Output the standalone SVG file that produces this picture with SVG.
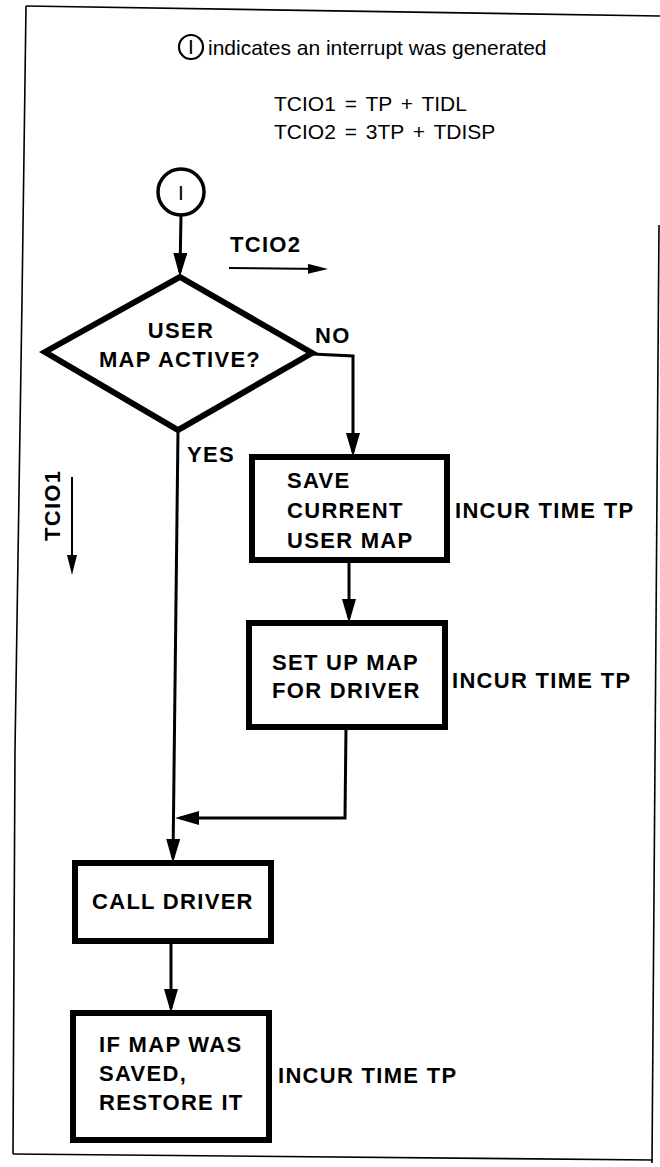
<svg xmlns="http://www.w3.org/2000/svg" width="660" height="1167" viewBox="0 0 660 1167">
<style>
.frame{fill:none;stroke:#000;stroke-width:1.6}
.conn{fill:none;stroke:#000;stroke-width:3}
.thin{fill:none;stroke:#000;stroke-width:2}
.shape{fill:#fff;stroke:#000;stroke-width:6}
.lbl{font-family:"Liberation Sans",Arial,sans-serif;font-weight:bold;font-size:22px;letter-spacing:1.3px;fill:#000}
.reg{font-family:"Liberation Sans",Arial,sans-serif;font-size:21px;fill:#000}
</style>
<defs>
<marker id="ah" viewBox="0 0 24 14" markerUnits="userSpaceOnUse" markerWidth="24" markerHeight="14" refX="19" refY="7" orient="auto"><path d="M0,0 L24,7 L0,14 Z" fill="#000"/></marker>
<marker id="sh" viewBox="0 0 20 10" markerUnits="userSpaceOnUse" markerWidth="20" markerHeight="10" refX="16" refY="5" orient="auto"><path d="M0,0 L20,5 L0,10 Z" fill="#000"/></marker>
</defs>
<g id="frame">
<path class="frame" d="M26,6 L660,16"/>
<path class="frame" d="M26,6 L22,300 L15,750 L13,1154"/>
<path class="frame" d="M13,1154 L653,1160"/>
<path class="frame" d="M659,225 L652,1163"/>
</g>
<g id="legend">
<circle cx="191" cy="47" r="12" fill="none" stroke="#000" stroke-width="2.2"/>
<text class="reg" x="191" y="54" font-size="17" text-anchor="middle">I</text>
<text class="reg" x="208" y="55" font-size="22">indicates an interrupt was generated</text>
<text class="reg" x="274" y="111" word-spacing="3">TCIO1 = TP + TIDL</text>
<text class="reg" x="274" y="139" word-spacing="3">TCIO2 = 3TP + TDISP</text>
</g>
<g id="connectors">
<line class="conn" x1="181" y1="215" x2="180" y2="272" marker-end="url(#ah)"/>
<polyline class="conn" points="312,354 353,356 353,452" marker-end="url(#ah)"/>
<line class="conn" x1="349" y1="560" x2="349" y2="618" marker-end="url(#ah)"/>
<polyline class="conn" points="346,727 345,818 180,818" marker-end="url(#ah)"/>
<line class="conn" x1="178" y1="430" x2="173" y2="858" marker-end="url(#ah)"/>
<line class="conn" x1="171" y1="941" x2="171" y2="1008" marker-end="url(#ah)"/>
<line class="thin" x1="229" y1="268" x2="324" y2="269" marker-end="url(#sh)"/>
<line class="thin" x1="72" y1="477" x2="72" y2="571" marker-end="url(#sh)"/>
<text class="lbl" x="230" y="252">TCIO2</text>
<text class="lbl" transform="translate(60,541) rotate(-90)">TCIO1</text>
<text class="lbl" x="315" y="343">NO</text>
<text class="lbl" x="187" y="462">YES</text>
</g>
<g id="start">
<circle cx="181" cy="192" r="23" fill="#fff" stroke="#000" stroke-width="3.5"/>
<text class="reg" x="181" y="200" text-anchor="middle" font-size="22">I</text>
</g>
<g id="decision">
<polygon class="shape" points="180,277 312,353 178,430 45,352"/>
<text class="lbl" x="181" y="338" text-anchor="middle">USER</text>
<text class="lbl" x="180" y="367" text-anchor="middle">MAP ACTIVE?</text>
</g>
<g id="save">
<rect class="shape" x="252" y="457" width="195" height="103"/>
<text class="lbl" x="287" y="488">SAVE</text>
<text class="lbl" x="287" y="518">CURRENT</text>
<text class="lbl" x="287" y="548">USER MAP</text>
<text class="lbl" x="455" y="518">INCUR TIME TP</text>
</g>
<g id="setup">
<rect class="shape" x="249" y="623" width="196" height="104"/>
<text class="lbl" x="272" y="670">SET UP MAP</text>
<text class="lbl" x="272" y="698">FOR DRIVER</text>
<text class="lbl" x="452" y="688">INCUR TIME TP</text>
</g>
<g id="call">
<rect class="shape" x="75" y="863" width="196" height="78"/>
<text class="lbl" x="92" y="909">CALL DRIVER</text>
</g>
<g id="restore">
<rect class="shape" x="73" y="1013" width="196" height="127"/>
<text class="lbl" x="99" y="1052">IF MAP WAS</text>
<text class="lbl" x="99" y="1081">SAVED,</text>
<text class="lbl" x="99" y="1110">RESTORE IT</text>
<text class="lbl" x="278" y="1083">INCUR TIME TP</text>
</g>
</svg>
